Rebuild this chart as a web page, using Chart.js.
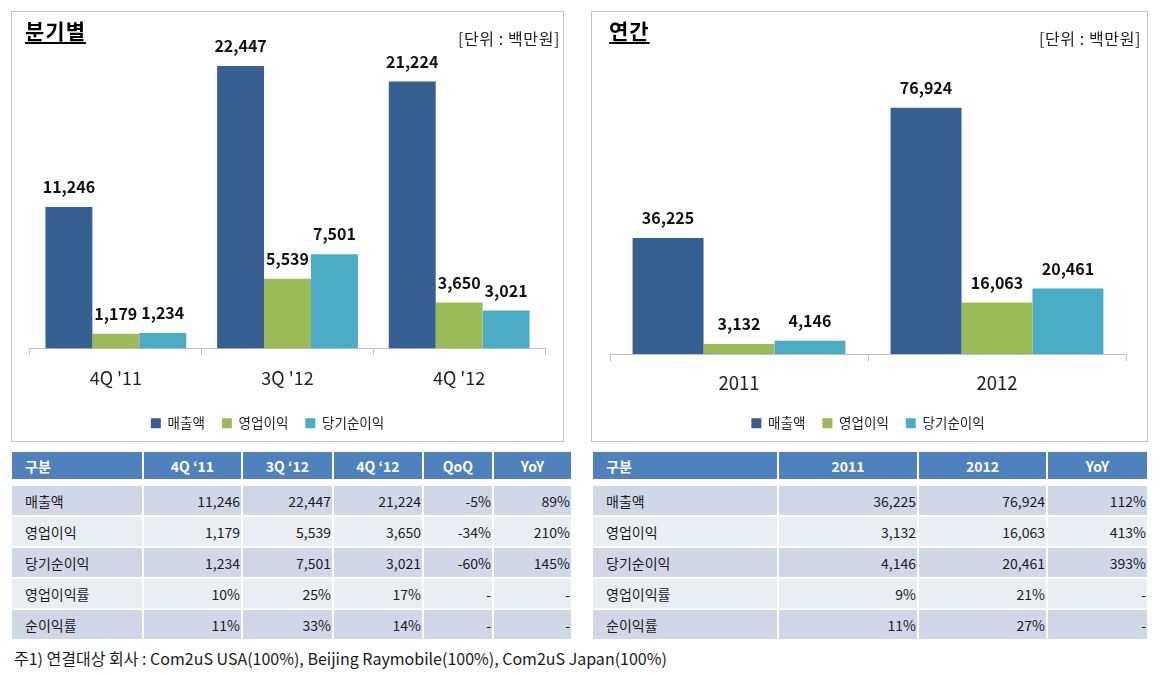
<!DOCTYPE html>
<html><head><meta charset="utf-8">
<script src="https://cdn.jsdelivr.net/npm/chart.js@4.4.1/dist/chart.umd.min.js"></script>
<style>
html,body{margin:0;padding:0;background:#fff;}
body{width:1163px;height:675px;position:relative;overflow:hidden;font-family:'Noto Sans CJK KR','Noto Sans',sans-serif;color:#1a1a1a;}
.panel{position:absolute;border:1px solid #c4c4c4;background:#fff;box-sizing:border-box;}
.panel canvas{position:absolute;left:0;top:0;}
.title{position:absolute;font-weight:bold;font-size:21px;line-height:21px;text-decoration:underline;text-decoration-thickness:2px;text-underline-offset:3px;color:#000;letter-spacing:1px;}
.unit{position:absolute;font-size:16px;line-height:16px;color:#222;white-space:nowrap;letter-spacing:0.6px;}
.cell{position:absolute;box-sizing:border-box;font-size:14px;display:flex;align-items:center;white-space:nowrap;color:#1a1a1a;}
.hd{background:#4F81BD;color:#fff;font-weight:bold;justify-content:center;}
.note{position:absolute;left:14px;top:647px;font-size:16px;line-height:22px;color:#1a1a1a;white-space:nowrap;}
</style></head>
<body>
<div class="panel" style="left:11px;top:11px;width:553px;height:431px;">
  <canvas id="cq" width="551" height="429"></canvas>
  <div class="title" style="left:13px;top:8px;">분기별</div>
  <div class="unit" style="right:3px;top:18px;">[단위 : 백만원]</div>
</div>
<div class="panel" style="left:591px;top:11px;width:557px;height:431px;">
  <canvas id="cy" width="555" height="429"></canvas>
  <div class="title" style="left:17px;top:8px;">연간</div>
  <div class="unit" style="right:6px;top:18px;">[단위 : 백만원]</div>
</div>
<div id="tables"></div>
<div class="note">주1) 연결대상 회사 : Com2uS USA(100%), Beijing Raymobile(100%), Com2uS Japan(100%)</div>
<script>
// ---- data ----
const seriesNames = ['매출액', '영업이익', '당기순이익'];
const quarterLabels = ["4Q '11", "3Q '12", "4Q '12"];
const quarterSales = [11246, 22447, 21224];
const quarterOpProfit = [1179, 5539, 3650];
const quarterNetProfit = [1234, 7501, 3021];
const yearLabels = ['2011', '2012'];
const yearSales = [36225, 76924];
const yearOpProfit = [3132, 16063];
const yearNetProfit = [4146, 20461];

const tableRowLabels = ['매출액', '영업이익', '당기순이익', '영업이익률', '순이익률'];
const quarterHeader = ['구분', '4Q ‘11', '3Q ‘12', '4Q ‘12', 'QoQ', 'YoY'];
const quarterOpMargin = ['10%', '25%', '17%'];
const quarterNetMargin = ['11%', '33%', '14%'];
const quarterQoQ = ['-5%', '-34%', '-60%', '-', '-'];
const quarterYoY = ['89%', '210%', '145%', '-', '-'];
const yearHeader = ['구분', '2011', '2012', 'YoY'];
const yearOpMargin = ['9%', '21%'];
const yearNetMargin = ['11%', '27%'];
const yearYoY = ['112%', '413%', '393%', '-', '-'];

const colors = ['#376092', '#9BBB59', '#4BACC6'];
const fmt = v => v.toLocaleString('en-US');

Chart.defaults.font.family = "'Noto Sans CJK KR', 'Noto Sans', sans-serif";

const valueLabels = {
  id: 'valueLabels',
  afterDatasetsDraw(chart) {
    const ctx = chart.ctx;
    ctx.save();
    ctx.font = "bold 16px 'Noto Sans CJK KR', sans-serif";
    ctx.fillStyle = '#111';
    ctx.textAlign = 'center';
    ctx.textBaseline = 'middle';
    chart.data.datasets.forEach((ds, di) => {
      chart.getDatasetMeta(di).data.forEach((bar, i) => {
        ctx.fillText(fmt(ds.data[i]), bar.x, bar.y - 20);
      });
    });
    ctx.restore();
  }
};
const legendShift = {
  id: 'legendShift',
  afterLayout(chart, args, opts) {
    if (chart.legend && opts.dx) { chart.legend.left += opts.dx; chart.legend.right += opts.dx; }
  }
};

function makeChart(id, labels, data, cfg) {
  return new Chart(document.getElementById(id), {
    type: 'bar',
    data: {
      labels,
      datasets: data.map((d, i) => ({
        label: seriesNames[i], data: d, backgroundColor: colors[i], borderWidth: 0,
        categoryPercentage: cfg.cat, barPercentage: 1.0
      }))
    },
    options: {
      responsive: false, animation: false,
      layout: { padding: { left: 18, right: cfg.padRight, top: 22, bottom: 1 } },
      plugins: {
        legend: { position: 'bottom', labels: { boxWidth: 10, boxHeight: 10, padding: 17, color: '#222', font: { size: 13.5 } } },
        tooltip: { enabled: false },
        legendShift: { dx: cfg.legendDx }
      },
      scales: {
        x: {
          grid: { drawOnChartArea: false, drawTicks: true, tickLength: 7, color: '#bfbfbf', offset: true },
          border: { color: '#bfbfbf' },
          ticks: { color: '#222', padding: cfg.tickPad, font: { size: cfg.tickSize } },
          afterFit(s) { s.height = cfg.axisH; }
        },
        y: { display: false, min: 0, max: cfg.max }
      }
    },
    plugins: [valueLabels, legendShift]
  });
}

makeChart('cq', quarterLabels, [quarterSales, quarterOpProfit, quarterNetProfit],
  { cat: 0.82, padRight: 18, max: 25000, tickPad: 12, tickSize: 18, axisH: 51, legendDx: -20 });
makeChart('cy', yearLabels, [yearSales, yearOpProfit, yearNetProfit],
  { cat: 0.825, padRight: 21, max: 100000, tickPad: 11, tickSize: 18.5, axisH: 45.5, legendDx: 0 });

// ---- tables ----
const wrap = document.getElementById('tables');
function cell(x, y, w, h, text, cls, bg, align) {
  const d = document.createElement('div');
  d.className = 'cell' + (cls ? ' ' + cls : '');
  d.style.left = x + 'px'; d.style.top = y + 'px';
  d.style.width = w + 'px'; d.style.height = h + 'px';
  if (bg) d.style.background = bg;
  if (align === 'left') { d.style.justifyContent = 'flex-start'; d.style.paddingLeft = '13px'; }
  if (align === 'right') { d.style.justifyContent = 'flex-end'; d.style.paddingRight = '1px'; }
  d.textContent = text;
  wrap.appendChild(d);
}
const rowTops = [486, 517, 548, 579, 610];
const rowBg = ['#D0D8E8', '#E9EDF4'];
function buildTable(colX, colW, header, rows) {
  header.forEach((h, c) => cell(colX[c], 452, colW[c], 27, h, 'hd', null, c === 0 ? 'left' : null));
  rows.forEach((r, ri) => r.forEach((v, c) =>
    cell(colX[c], rowTops[ri], colW[c], 29, v, null, rowBg[ri % 2], c === 0 ? 'left' : 'right')));
}
const qRows = tableRowLabels.map((lab, ri) => {
  let vals;
  if (ri === 0) vals = quarterSales.map(fmt);
  else if (ri === 1) vals = quarterOpProfit.map(fmt);
  else if (ri === 2) vals = quarterNetProfit.map(fmt);
  else if (ri === 3) vals = quarterOpMargin;
  else vals = quarterNetMargin;
  return [lab, ...vals, quarterQoQ[ri], quarterYoY[ri]];
});
const yRows = tableRowLabels.map((lab, ri) => {
  let vals;
  if (ri === 0) vals = yearSales.map(fmt);
  else if (ri === 1) vals = yearOpProfit.map(fmt);
  else if (ri === 2) vals = yearNetProfit.map(fmt);
  else if (ri === 3) vals = yearOpMargin;
  else vals = yearNetMargin;
  return [lab, ...vals, yearYoY[ri]];
});
buildTable([12, 144, 243, 334, 424, 494], [130, 97, 89, 88, 68, 77], quarterHeader, qRows);
buildTable([593, 779, 919, 1048], [184, 138, 127, 99], yearHeader, yRows);
</script>
</body></html>
